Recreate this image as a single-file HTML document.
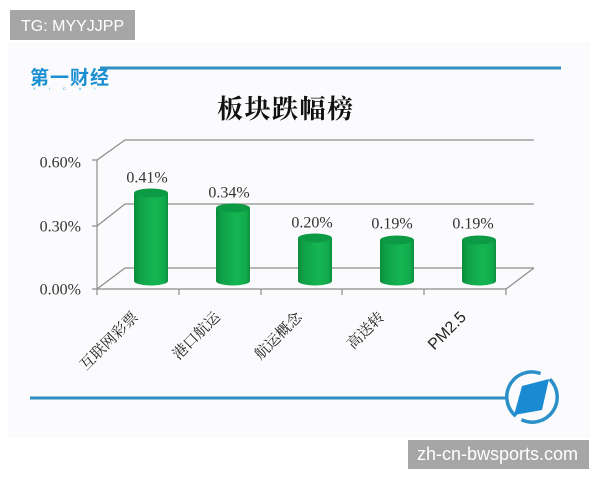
<!DOCTYPE html>
<html>
<head>
<meta charset="utf-8">
<style>
html,body{margin:0;padding:0;background:#fff;}
svg{display:block;}
</style>
</head>
<body>
<svg width="600" height="480" viewBox="0 0 600 480" xmlns="http://www.w3.org/2000/svg">
<defs>
<linearGradient id="cyl" x1="0" y1="0" x2="1" y2="0">
<stop offset="0" stop-color="#0b8c3c"/>
<stop offset="0.18" stop-color="#10a247"/>
<stop offset="0.6" stop-color="#14b553"/>
<stop offset="0.88" stop-color="#12ab4d"/>
<stop offset="1" stop-color="#0c8f3e"/>
</linearGradient>
</defs>
<rect x="0" y="0" width="600" height="480" fill="#ffffff"/>
<rect x="8" y="42" width="582" height="396" fill="#fbfbfd"/>

<!-- badge -->
<rect x="10" y="10" width="125" height="30" fill="#a6a6a6"/>
<text x="21" y="31" font-family="Liberation Sans, sans-serif" font-size="16" fill="#ffffff">TG: MYYJJPP</text>

<!-- logo + top line -->
<line x1="100" y1="68" x2="561" y2="68" stroke="#2f8fc4" stroke-width="3"/>
<text x="30" y="84" font-family="Liberation Sans, Noto Sans CJK SC, sans-serif" font-size="19" font-weight="700" fill="#1a8fd2" letter-spacing="1">第一财经</text>
<text x="33" y="90" font-family="Liberation Sans, sans-serif" font-size="4" fill="#1a8fd2" letter-spacing="13">YICAI</text>

<!-- title -->
<text x="217" y="118" font-family="Liberation Serif, Noto Serif CJK SC, serif" font-size="26" font-weight="700" fill="#111" letter-spacing="1.5">板块跌幅榜</text>

<!-- chart frame -->
<g stroke="#8c8c8c" stroke-width="1.2" fill="none">
<line x1="125" y1="140" x2="534" y2="140"/>
<line x1="125" y1="204" x2="534" y2="204"/>
<line x1="125" y1="268" x2="534" y2="268"/>
<line x1="97" y1="160" x2="125" y2="140"/>
<line x1="97" y1="226" x2="125" y2="204"/>
<line x1="97" y1="289" x2="125" y2="268"/>
<line x1="506" y1="289" x2="534" y2="268"/>
<line x1="97" y1="160" x2="97" y2="295"/>
<line x1="92" y1="160" x2="97" y2="160"/>
<line x1="92" y1="226" x2="97" y2="226"/>
<line x1="92" y1="289" x2="97" y2="289"/>
<line x1="97" y1="289" x2="506" y2="289"/>
<line x1="179" y1="289" x2="179" y2="295"/>
<line x1="261" y1="289" x2="261" y2="295"/>
<line x1="342" y1="289" x2="342" y2="295"/>
<line x1="424" y1="289" x2="424" y2="295"/>
<line x1="506" y1="289" x2="506" y2="295"/>
</g>

<!-- y labels -->
<g font-family="Liberation Serif, serif" font-size="16" fill="#333" text-anchor="end">
<text x="81" y="167.5">0.60%</text>
<text x="81" y="231.5">0.30%</text>
<text x="81" y="294.5">0.00%</text>
</g>

<!-- bars -->
<g>
<path d="M134,193 L134,281 A17,4.5 0 0,0 168,281 L168,193 Z" fill="url(#cyl)"/>
<ellipse cx="151" cy="193" rx="17" ry="4.5" fill="#0d9a44"/>
<path d="M216,208 L216,281 A17,4.5 0 0,0 250,281 L250,208 Z" fill="url(#cyl)"/>
<ellipse cx="233" cy="208" rx="17" ry="4.5" fill="#0d9a44"/>
<path d="M298,238 L298,281 A17,4.5 0 0,0 332,281 L332,238 Z" fill="url(#cyl)"/>
<ellipse cx="315" cy="238" rx="17" ry="4.5" fill="#0d9a44"/>
<path d="M380,240 L380,281 A17,4.5 0 0,0 414,281 L414,240 Z" fill="url(#cyl)"/>
<ellipse cx="397" cy="240" rx="17" ry="4.5" fill="#0d9a44"/>
<path d="M462,240 L462,281 A17,4.5 0 0,0 496,281 L496,240 Z" fill="url(#cyl)"/>
<ellipse cx="479" cy="240" rx="17" ry="4.5" fill="#0d9a44"/>
</g>

<!-- data labels -->
<g font-family="Liberation Serif, serif" font-size="16" fill="#333" text-anchor="middle">
<text x="147" y="182.5">0.41%</text>
<text x="229" y="197.5">0.34%</text>
<text x="312" y="227.5">0.20%</text>
<text x="392" y="228.5">0.19%</text>
<text x="473" y="228.5">0.19%</text>
</g>

<!-- x labels -->
<g font-family="Liberation Serif, Noto Serif CJK SC, serif" font-size="15" fill="#222" text-anchor="end">
<text transform="translate(139,318) rotate(-45)">互联网彩票</text>
<text transform="translate(221,318) rotate(-45)">港口航运</text>
<text transform="translate(303,318) rotate(-45)">航运概念</text>
<text transform="translate(385,318) rotate(-45)">高送转</text>
<text transform="translate(467,318) rotate(-45)" font-family="Liberation Sans, sans-serif" font-size="16">PM2.5</text>
</g>

<!-- bottom line + emblem -->
<line x1="30" y1="398" x2="506" y2="398" stroke="#2f8ec0" stroke-width="3"/>
<g fill="none" stroke="#2b8fc8" stroke-width="3.5">
<path d="M549.7,379.3 A25,25 0 0,1 521.4,419.7"/>
<path d="M515.9,416.2 A25,25 0 0,1 540.6,373.5"/>
</g>
<polygon points="522,386 549,379 542,410 514,415" fill="#1a8ad2"/>

<!-- watermark -->
<rect x="408" y="440" width="181" height="29" fill="#a6a6a6"/>
<text x="417" y="460" font-family="Liberation Sans, sans-serif" font-size="18" fill="#ffffff">zh-cn-bwsports.com</text>
</svg>
</body>
</html>
